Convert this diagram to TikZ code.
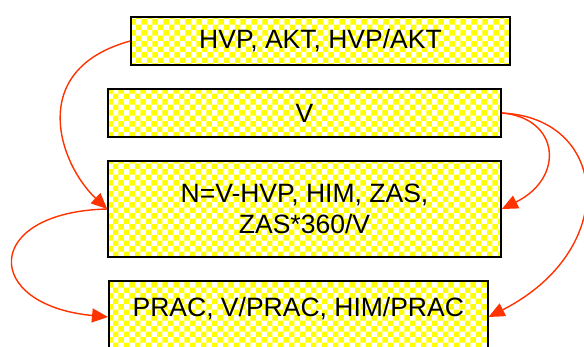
\documentclass[tikz,border=0pt]{standalone}
\usepackage{fontspec}
\setmainfont{Liberation Sans}
\usetikzlibrary{arrows.meta,patterns}
\definecolor{arrowred}{RGB}{255,51,0}
\tikzset{
  box/.style={draw=black, line width=1.6pt, pattern=checkerboard, pattern color=yellow,
    inner sep=0pt, font=\fontsize{26.5}{31}\selectfont},
  flow/.style={draw=arrowred, line width=1.4pt, -{Triangle[length=16pt,width=14pt]}},
}
\begin{document}
\begin{tikzpicture}[x=1pt,y=-1pt]
\clip (0,0) rectangle (584,347);
\fill[white] (0,0) rectangle (584,347);

% stacked boxes
\node[box, minimum width=379pt, minimum height=48pt] (top) at (320.5,41) {HVP, AKT, HVP/AKT};
\node[box, minimum width=393pt, minimum height=48pt] (v) at (304.5,113) {V};
\node[box, minimum width=393pt, minimum height=96pt, align=center] (calc) at (304.5,209)
  {N=V-HVP, HIM, ZAS,\\ZAS*360/V};
\node[box, minimum width=379pt, text height=36pt, text depth=43pt, anchor=base west] (prac)
  at (108,317) {PRAC, V/PRAC, HIM/PRAC};

% connectors
\draw[flow] (top.west) .. controls (25,70) and (60,165) .. (calc.west);
\draw[flow] (calc.west) .. controls (-18,212) and (-18,305) .. (prac.base west);
\draw[flow] (v.east) .. controls (560,118) and (565,178) .. (calc.east);
\draw[flow] (v.east) .. controls (610,118) and (620,250) .. (prac.base east);
\end{tikzpicture}
\end{document}
